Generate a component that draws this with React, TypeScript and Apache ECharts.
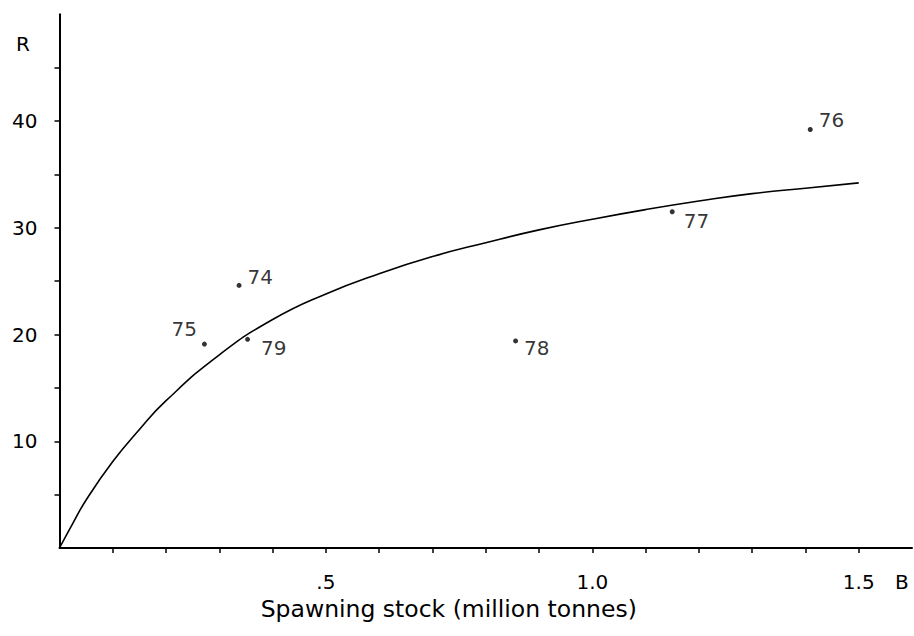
import React, { useEffect, useRef } from "react";
import * as echarts from "echarts";

// Fitted stock–recruitment curve (B in million tonnes, R)
const curveB = [0, 0.025, 0.05, 0.1, 0.15, 0.2, 0.3, 0.4, 0.5, 0.6, 0.7, 0.8, 0.9, 1.0, 1.1, 1.2, 1.3, 1.4, 1.5];
const curveR = [0, 2.3, 4.5, 8.1, 11.1, 13.8, 18.1, 21.4, 23.8, 25.7, 27.3, 28.6, 29.8, 30.8, 31.7, 32.5, 33.2, 33.7, 34.2];

// Observed year-class points
const years = ["74", "75", "76", "77", "78", "79"];
const stock = [0.337, 0.272, 1.409, 1.15, 0.856, 0.353];
const recruits = [24.6, 19.1, 39.2, 31.5, 19.4, 19.55];

// Axis ticks and labels
const xTickValues = [0.1, 0.2, 0.3, 0.4, 0.5, 0.6, 0.7, 0.8, 0.9, 1.0, 1.1, 1.2, 1.3, 1.4, 1.5];
const xLabelValues = [0.5, 1.0, 1.5];
const xLabelTexts = [".5", "1.0", "1.5"];
const yTickValues = [5, 10, 15, 20, 25, 30, 35, 40, 45];
const yLabelValues = [10, 20, 30, 40];

const FONT = "'DejaVu Sans', 'Liberation Sans', sans-serif";

// label placement per year (style only)
const labelPlacement: Record<string, { position: string; offset: number[] }> = {
  "74": { position: "right", offset: [6, -8] },
  "75": { position: "left", offset: [-5, -15] },
  "76": { position: "right", offset: [6, -10] },
  "77": { position: "right", offset: [9, 9] },
  "78": { position: "right", offset: [6, 7] },
  "79": { position: "right", offset: [11, 9] },
};

export default function App() {
  const ref = useRef<HTMLDivElement>(null);
  useEffect(() => {
    if (!ref.current) return;
    const chart = echarts.init(ref.current, undefined, { renderer: "svg" });
    const curveData = curveB.map((b, i) => [b, curveR[i]]);
    const pointData = years.map((y, i) => {
      const p = labelPlacement[y];
      return {
        name: y,
        value: [stock[i], recruits[i]],
        label: {
          show: true,
          formatter: y,
          position: p.position,
          distance: 0,
          offset: p.offset,
          color: "#000",
          fontSize: 20,
          fontFamily: FONT,
        },
      };
    });
    const option: any = {
      animation: false,
      backgroundColor: "#ffffff",
      grid: { left: 59.5, right: 2, top: 14.25, bottom: 88, containLabel: false, outerBoundsMode: "none" },
      xAxis: {
        type: "value",
        min: 0,
        max: 1.6,
        axisLine: { show: true, lineStyle: { color: "#000", width: 2 } },
        axisTick: { show: true, length: 5, lineStyle: { color: "#000", width: 1.5 }, customValues: xTickValues },
        axisLabel: {
          customValues: xLabelValues,
          formatter: (v: number) => {
            const idx = xLabelValues.findIndex((x) => Math.abs(x - v) < 1e-6);
            return idx >= 0 ? xLabelTexts[idx] : "";
          },
          margin: 24,
          color: "#000",
          fontSize: 20,
          fontFamily: FONT,
        },
        splitLine: { show: false },
        name: "Spawning stock (million tonnes)",
        nameLocation: "middle",
        nameGap: 47,
        nameTextStyle: { color: "#000", fontSize: 23.5, fontFamily: FONT, padding: [0, 74, 0, 0] },
      },
      yAxis: {
        type: "value",
        min: 0,
        max: 50,
        axisLine: { show: true, lineStyle: { color: "#000", width: 2 } },
        axisTick: { show: true, length: 5, lineStyle: { color: "#000", width: 1.5 }, customValues: yTickValues },
        axisLabel: {
          customValues: yLabelValues,
          margin: 22,
          color: "#000",
          fontSize: 20,
          fontFamily: FONT,
        },
        splitLine: { show: false },
      },
      graphic: [
        { type: "text", left: 16, top: 34, style: { text: "R", fill: "#000", font: `20px ${FONT}` } },
        { type: "text", left: 895, top: 572, style: { text: "B", fill: "#000", font: `20px ${FONT}` } },
      ],
      series: [
        {
          type: "line",
          data: curveData,
          smooth: 0.5,
          showSymbol: false,
          symbol: "none",
          lineStyle: { color: "#000", width: 1.6 },
          z: 2,
        },
        {
          type: "scatter",
          data: pointData,
          symbol: "circle",
          symbolSize: 5,
          itemStyle: { color: "#000" },
          z: 3,
        },
      ],
    };
    chart.setOption(option);
    return () => chart.dispose();
  }, []);
  return (
    <div
      ref={ref}
      style={{ position: "fixed", left: 0, top: 0, width: 914, height: 636, background: "#fff" }}
    />
  );
}
